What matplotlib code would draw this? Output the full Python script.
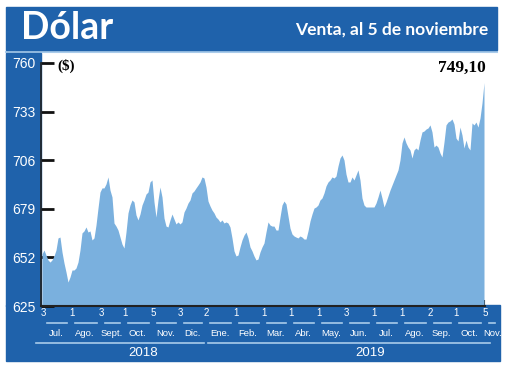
import matplotlib
matplotlib.use('Agg')
import matplotlib.pyplot as plt
from matplotlib.patches import Rectangle
from matplotlib.lines import Line2D

# dolar, venta (one reading every ~1.5 trading days, 3 jul 2018 -> 5 nov 2019)
values = [
    653.9, 656.1, 653.3, 650.6, 649.4, 650.6, 652.8, 656.1, 662.8, 663.3,
    655.0, 648.9, 643.9, 638.3, 641.1, 645.0, 645.0, 646.1, 649.4, 656.1,
    665.6, 666.7, 668.9, 666.1, 666.7, 661.7, 662.8, 670.0, 679.4, 688.3,
    690.6, 690.6, 692.8, 696.7, 689.4, 685.6, 671.1, 669.4, 667.2, 663.3,
    659.4, 657.2, 666.1, 676.7, 681.1, 683.9, 682.8, 675.6, 672.8, 676.1,
    681.1, 683.9, 687.2, 688.3, 693.9, 695.0, 682.8, 674.4, 683.9, 691.1,
    685.6, 673.9, 669.4, 668.9, 672.8, 676.1, 673.3, 670.6, 671.7, 670.6,
    671.7, 677.2, 679.4, 682.2, 683.9, 687.8, 688.9, 690.6, 692.2, 693.9,
    696.7, 696.1, 691.1, 683.3, 680.6, 678.3, 676.7, 674.4, 673.3, 671.7,
    672.8, 671.1, 671.7, 671.1, 668.9, 662.8, 655.6, 652.8, 653.3, 657.8,
    661.7, 664.4, 666.1, 662.8, 657.8, 655.6, 652.8, 650.6, 651.1, 655.0,
    657.8, 660.0, 666.1, 671.7, 670.0, 669.4, 669.4, 667.2, 667.2, 674.4,
    681.1, 683.3, 681.7, 675.0, 668.3, 665.0, 663.9, 663.3, 662.8, 663.9,
    663.3, 662.2, 662.2, 666.7, 672.2, 676.1, 679.4, 680.0, 681.1, 683.9,
    685.0, 687.8, 691.7, 693.9, 695.0, 696.7, 696.1, 697.2, 702.8, 707.2,
    708.9, 706.1, 698.3, 693.9, 693.9, 696.7, 695.0, 697.8, 700.6, 695.0,
    685.0, 681.1, 680.0, 680.0, 680.0, 680.0, 680.0, 682.2, 685.6, 689.4,
    685.0, 680.0, 682.8, 686.1, 689.4, 692.2, 695.0, 697.8, 700.6, 706.1,
    715.6, 718.9, 715.6, 713.3, 711.7, 707.2, 711.7, 712.8, 711.7, 717.2,
    721.7, 722.2, 723.3, 723.9, 725.6, 721.7, 713.3, 714.4, 713.3, 710.0,
    707.8, 716.1, 725.6, 727.2, 727.8, 728.9, 726.1, 718.3, 716.7, 724.4,
    720.0, 712.8, 717.2, 713.3, 711.7, 726.7, 725.6, 727.2, 724.4, 729.4,
    737.8, 749.1,
]

y_ticks = [625, 652, 679, 706, 733, 760]
# first trading day shown for each month (index into values)
day_pos = [0, 14, 29, 40.5, 55, 68.5, 81.5, 96, 110, 123.5, 137.5, 151.5, 165, 179, 193.5, 206, 221]
day_labels = ['3', '1', '3', '1', '5', '3', '2', '1', '1', '1', '1', '3', '1', '1', '2', '1', '5']
months = ['Jul.', 'Ago.', 'Sept.', 'Oct.', 'Nov.', 'Dic.', 'Ene.', 'Feb.',
          'Mar.', 'Abr.', 'May.', 'Jun.', 'Jul.', 'Ago.', 'Sep.', 'Oct.', 'Nov.']
years = ['2018', '2019']

dark_blue = '#1f62ab'
fill_blue = '#7ab0de'
light_line = '#a9cbea'
narrow = ['Liberation Sans', 'DejaVu Sans']

W, H = 520, 365
fig = plt.figure(figsize=(5.2, 3.65), dpi=100)

def fx(px):
    return px / W

def fy(py):
    return 1 - py / H

# header and side / bottom bands
fig.patches.append(Rectangle((fx(6), fy(50)), fx(491), 43 / H, transform=fig.transFigure,
                             color=dark_blue, zorder=-1))
fig.add_artist(Line2D([fx(6), fx(497)], [fy(51.5), fy(51.5)], color=light_line, lw=1.5, zorder=-1))
fig.patches.append(Rectangle((fx(6), fy(306)), fx(35), 253 / H, transform=fig.transFigure,
                             color=dark_blue, zorder=-1))
fig.patches.append(Rectangle((fx(6), fy(361)), fx(494), 56 / H, transform=fig.transFigure,
                             color=dark_blue, zorder=-1))

fig.text(fx(21), fy(28), 'Dólar', color='white', fontsize=27, fontweight='bold',
         family=['Lato', 'DejaVu Sans'], va='center', ha='left')
fig.text(fx(488), fy(30), 'Venta, al 5 de noviembre', color='white', fontsize=12.5,
         fontweight='bold', family=['Lato', 'DejaVu Sans'], va='center', ha='right')

ax = fig.add_axes([fx(41), fy(306), fx(444), 243 / H], zorder=1)
ax.patch.set_alpha(0)
x = list(range(len(values)))
ax.fill_between(x, values, 625, color=fill_blue, lw=0, zorder=2)
ax.set_xlim(-0.5, len(values) - 0.5)
ax.set_ylim(625, 760)
ax.set_axisbelow(True)

for s in ['top', 'right']:
    ax.spines[s].set_visible(False)
ax.spines['left'].set_color('#222222')
ax.spines['bottom'].set_color('#222222')
ax.spines['left'].set_linewidth(1.2)
ax.spines['bottom'].set_linewidth(1.5)

ax.set_yticks(y_ticks)
ax.set_yticklabels([str(v) for v in y_ticks], family=narrow, fontsize=10, color='white')
ax.tick_params(axis='y', direction='in', length=9, width=2, color='#111111', pad=4)
ax.set_xticks([len(values) - 1])
ax.set_xticklabels([''])
ax.tick_params(axis='x', direction='in', length=4, width=1.5, color='#111111')

ax.text(fx(57), fy(66), '($)', transform=fig.transFigure, fontsize=11, fontweight='bold',
        family=['Liberation Serif', 'DejaVu Serif'], va='center', ha='left')
ax.text(fx(486), fy(68), '749,10', transform=fig.transFigure, fontsize=12.5, fontweight='bold',
        family=['Liberation Serif', 'DejaVu Serif'], va='center', ha='right')

# bottom date labels
trans = ax.get_xaxis_transform()
ybase = lambda py: (306 - py) / 243.0
for p, lab in zip(day_pos, day_labels):
    ax.text(p + 0.8, ybase(313), lab, transform=trans, color='white', fontsize=7,
            family=narrow, ha='center', va='center', clip_on=False)

mids = [(day_pos[i] + day_pos[i + 1]) / 2 for i in range(len(day_pos) - 1)]
mids.append(day_pos[-1] + 4.5)
for m, lab in zip(mids, months):
    ax.text(m, ybase(333), lab, transform=trans, color='white', fontsize=6.8,
            family=narrow, ha='center', va='center', clip_on=False)

# underlines below day numbers
seg_ends = day_pos + [day_pos[-1] + 7]
for i in range(len(seg_ends) - 1):
    a, b = seg_ends[i] + 2.5, seg_ends[i + 1] - 1.5
    ax.plot([a, b], [ybase(323), ybase(323)], transform=trans, color=light_line,
            lw=1.2, clip_on=False)

# year lines and labels
ax.plot([-3, 81], [ybase(343), ybase(343)], transform=trans, color=light_line, lw=1.2, clip_on=False)
ax.plot([83, 224], [ybase(343), ybase(343)], transform=trans, color=light_line, lw=1.2, clip_on=False)
ax.text(50.5, ybase(353), years[0], transform=trans, color='white', fontsize=9.5,
        family=narrow, ha='center', va='center', clip_on=False)
ax.text(164, ybase(353), years[1], transform=trans, color='white', fontsize=9.5,
        family=narrow, ha='center', va='center', clip_on=False)

fig.savefig('out.png', dpi=100)
